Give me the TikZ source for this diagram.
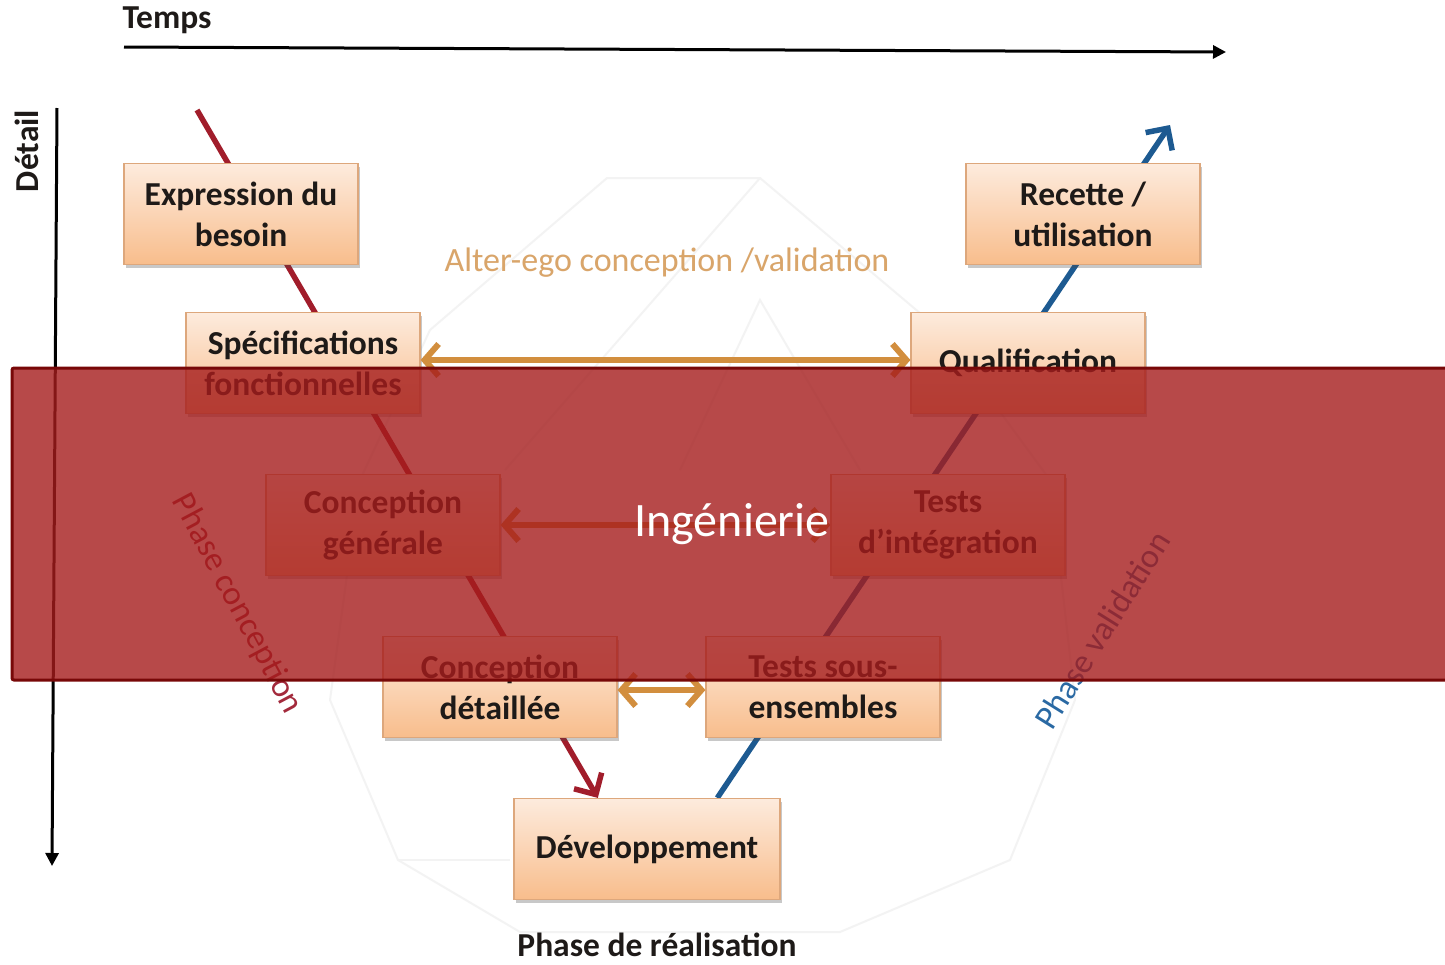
\documentclass[tikz,border=0pt]{standalone}
\usepackage{fontspec}
\setmainfont{Carlito}
\usetikzlibrary{arrows.meta,shadows,calc}
\pgfdeclarelayer{back}
\pgfdeclarelayer{front}
\pgfsetlayers{back,main,front}

\definecolor{boxtop}{HTML}{FDEBDD}
\definecolor{boxbot}{HTML}{F8BD8C}
\definecolor{boxline}{HTML}{DDA77C}
\definecolor{boxtext}{HTML}{1E1A18}
\definecolor{vred}{HTML}{A11D2B}
\definecolor{vblue}{HTML}{1D5A91}
\definecolor{vorange}{HTML}{D28E3E}
\definecolor{altertxt}{HTML}{D9A56A}
\definecolor{phasered}{HTML}{A32A3C}
\definecolor{phaseblue}{HTML}{2A69A3}
\definecolor{bandfill}{HTML}{A51C1C}
\definecolor{bandline}{HTML}{780808}
\definecolor{ghost}{HTML}{F3F3F3}

\tikzset{
  vbox/.style={rectangle, minimum width=234pt, minimum height=101pt,
    top color=boxtop, bottom color=boxbot, draw=boxline, line width=1.2pt,
    font=\bfseries\fontsize{33.5}{41}\selectfont, align=center, text=boxtext,
    drop shadow={shadow xshift=2pt, shadow yshift=-3pt, opacity=0.3, fill=black!70}},
  label34/.style={font=\fontsize{34}{40}\selectfont, inner sep=0pt},
  bold34/.style={font=\bfseries\fontsize{33.5}{40}\selectfont, inner sep=0pt, text=boxtext},
  redline/.style={draw=vred, line width=5.5pt},
  blueline/.style={draw=vblue, line width=5.5pt},
  barb/.style={-{Straight Barb[length=16pt, width=32pt]}},
  alterego/.style={draw=vorange, line width=6pt,
    {Straight Barb[length=14pt, width=32pt]}-{Straight Barb[length=14pt, width=32pt]}},
  axis/.style={draw=black, line width=3pt, -{Triangle[length=13pt, width=13pt]}},
  band/.style={rectangle, rounded corners=2pt, fill=bandfill, fill opacity=0.8,
    draw=bandline, draw opacity=1, text opacity=1, line width=3pt, text=white,
    font=\fontsize{48}{52}\selectfont, minimum width=1440pt, minimum height=312pt,
    inner sep=0pt},
}

\begin{document}
\begin{tikzpicture}[x=1pt, y=-1pt]
\useasboundingbox (0,0) rectangle (1445,964);

% the nine steps of the V cycle
\node[vbox] (expr)   at (241,214)  {Expression du\\besoin};
\node[vbox] (spec)   at (303,363)  {Spécifications\\fonctionnelles};
\node[vbox] (concg)  at (383,525)  {Conception\\générale};
\node[vbox] (concd)  at (500,687)  {Conception\\détaillée};
\node[vbox, minimum width=266pt] (dev) at (647,849) {Développement};
\node[vbox] (tsous)  at (823,687)  {Tests sous-\\ensembles};
\node[vbox] (tinteg) at (948,525)  {Tests\\d’intégration};
\node[vbox] (qual)   at (1028,363) {Qualification};
\node[vbox] (rec)    at (1083,214) {Recette /\\utilisation};

% axes
\coordinate (t0) at (124,47);
\coordinate (t1) at (1226,52);
\coordinate (d0) at (57,108);
\coordinate (d1) at (52,866);
\draw[axis] (t0) -- (t1);
\draw[axis] (d0) -- (d1);
\node[bold34] (temps) at (167,20) {Temps};
\node[bold34, rotate=90] (detail) at (27,151) {Détail};

% free ends of the two branches
\coordinate (vtop) at (197,110);
\coordinate (vtip) at (1170,125);

\begin{pgfonlayer}{back}
  \fill[white] (0,0) rectangle (1445,964);
  % faint background outline
  \draw[ghost, line width=2pt, line join=round]
    (607,178) -- (760,178) -- (940,330) -- (1050,480) -- (1075,700)
    -- (1010,860) -- (840,932) -- (520,932) -- (398,860) -- (330,700)
    -- (360,480) -- (430,330) -- cycle;
  \draw[ghost, line width=2pt] (760,178) -- (505,470);
  \draw[ghost, line width=2pt] (680,470) -- (760,300) -- (860,470);
  \draw[ghost, line width=2pt] (398,860) -- (510,860);
  % descending and ascending branches
  \draw[redline, barb] (vtop) -- ($(dev.north west)!0.316!(dev.north east)$);
  \draw[blueline, barb] ($(dev.north west)!0.763!(dev.north east)$) -- (vtip);
\end{pgfonlayer}

% conception / validation pairs
\draw[alterego] ([yshift=3pt]spec.east) -- ([yshift=3pt]qual.west);
\draw[alterego] (concg.east) -- (tinteg.west);
\draw[alterego] ([yshift=-3pt]concd.east) -- ([yshift=-3pt]tsous.west);

\node[label34, text=altertxt] (alter) at (667,263) {Alter-ego conception /validation};
\node[label34, text=phasered, rotate=-62] (phc) at (237,604) {Phase conception};
\node[label34, text=phaseblue, rotate=58] (phv) at (1102,630) {Phase validation};
\node[bold34] (phr) at (657,945) {Phase de réalisation};

\begin{pgfonlayer}{front}
  \node[band] (band) at (732,524) {Ingénierie};
\end{pgfonlayer}
\end{tikzpicture}
\end{document}
